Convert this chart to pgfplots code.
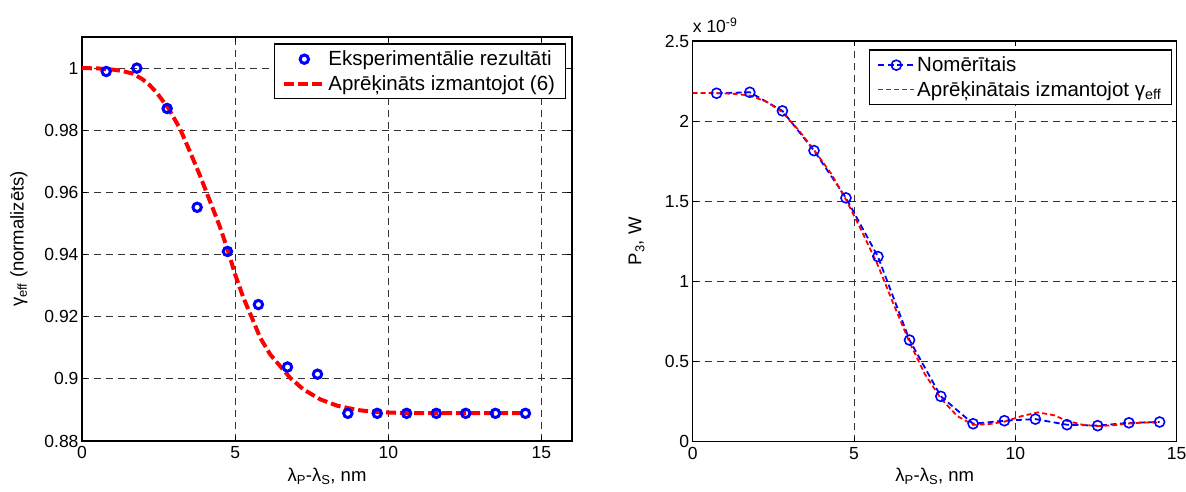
\documentclass[border=0pt]{standalone}
\usepackage{pgfplots}
\pgfplotsset{compat=1.18}
\usepackage{fontspec}
\setmainfont{Liberation Sans}

\pgfplotstableread{
x y
0.79 0.9989
1.79 1.000
2.78 0.987
3.76 0.9552
4.75 0.941
5.76 0.9239
6.71 0.9038
7.69 0.9015
8.68 0.8889
9.64 0.8889
10.60 0.8889
11.57 0.8889
12.53 0.8889
13.50 0.8889
14.48 0.8889
}\expdata

\pgfplotstableread{
x y
0    1.0000
0.5  0.9999
1.01 0.9995
1.3  0.9991
1.67 0.9982
1.99 0.9963
2.2  0.9946
2.43 0.9922
2.82 0.9871
3.2  0.9805
3.52 0.9732
3.84 0.9657
4.17 0.9574
4.5  0.9490
4.77 0.9411
5.0  0.9336
5.27 0.9261
5.55 0.9196
5.82 0.9132
6.15 0.9078
6.47 0.9041
6.8  0.9003
7.23 0.8966
7.78 0.8934
8.32 0.8914
8.98 0.8900
9.6  0.8893
10.5 0.8890
14.48 0.8890
}\calcdata

\pgfplotstableread{
x y
0.74 2.174
1.77 2.180
2.78 2.064
3.76 1.816
4.75 1.521
5.74 1.155
6.72 0.634
7.69 0.283
8.69 0.112
9.66 0.131
10.62 0.141
11.60 0.106
12.55 0.100
13.52 0.118
14.47 0.123
}\measdata

\pgfplotstableread{
x y
0    2.176
0.74 2.175
1.3  2.170
1.77 2.160
2.3  2.120
2.78 2.055
3.3  1.940
3.76 1.820
4.3  1.670
4.75 1.510
5.2  1.330
5.74 1.100
6.2  0.870
6.72 0.620
7.2  0.420
7.69 0.270
8.2  0.160
8.69 0.105
9.2  0.110
9.66 0.125
10.2 0.160
10.7 0.183
11.2 0.165
11.6 0.130
12.1 0.105
12.55 0.098
13.0 0.102
13.5 0.113
14.0 0.120
14.47 0.120
}\gammadata

\begin{document}
\begin{tikzpicture}
\useasboundingbox (0pt,0pt) rectangle (1186pt,491pt);
\pgfplotsset{
  every axis/.append style={
    scale only axis, anchor=south west,
    font=\fontsize{17.5}{20}\selectfont,
    axis line style={line width=1.2pt},
    tick align=inside, major tick length=5pt,
    tick style={black, line width=0.8pt},
    grid=major,
    major grid style={black!80, line width=0.8pt, dash pattern=on 7pt off 5pt},
    /pgf/number format/assume math mode=true,
    yticklabel style={/pgf/number format/fixed, /pgf/number format/precision=2},
    xticklabel style={yshift=-2pt},
    label style={font=\fontsize{18.5}{21}\selectfont},
    legend cell align=left,
    legend style={font=\fontsize{20.5}{23}\selectfont,
                  inner xsep=8pt, inner ysep=5pt, row sep=4pt},
    every axis legend/.append style={line width=1.1pt},
  }
}
% Left plot
\begin{axis}[
  at={(82pt,50pt)}, width=490pt, height=404pt,
  xmin=0, xmax=16, ymin=0.88, ymax=1.01,
  xtick={0,5,10,15}, ytick={0.88,0.9,0.92,0.94,0.96,0.98,1},
  xlabel={λ\textsubscript{P}-λ\textsubscript{S}, nm},
  ylabel={γ\textsubscript{eff} (normalizēts)},
  xlabel style={at={(axis description cs:0.5,-0.087)}, anchor=center},
  ylabel style={at={(axis description cs:-0.129,0.5)}, anchor=center},
  legend style={at={(rel axis cs:0.987,0.984)}, anchor=north east},
  legend image code/.code={\draw[mark repeat=2,mark phase=2] plot coordinates {(0pt,0pt)(20pt,0pt)(40pt,0pt)};},
]
\addplot[only marks, mark=o, mark size=4.2pt, blue, mark options={line width=3pt}] table[x=x,y=y] {\expdata};
\addlegendentry{Eksperimentālie rezultāti}
\addplot[red, line width=4pt, dash pattern=on 10pt off 4pt, mark=none] table[x=x,y=y] {\calcdata};
\addlegendentry{Aprēķināts izmantojot (6)}
\end{axis}
% Right plot
\begin{axis}[
  name=R,
  at={(692.7pt,49.3pt)}, width=484pt, height=400.7pt,
  xmin=0, xmax=15, ymin=0, ymax=2.5,
  xtick={0,5,10,15}, ytick={0,0.5,1,1.5,2,2.5},
  xlabel={λ\textsubscript{P}-λ\textsubscript{S}, nm},
  ylabel={P\textsubscript{3}, W},
  xlabel style={at={(axis description cs:0.5,-0.087)}, anchor=center},
  ylabel style={at={(axis description cs:-0.116,0.5)}, anchor=center},
  legend style={at={(rel axis cs:0.990,0.979)}, anchor=north east},
  legend image code/.code={\draw[mark repeat=2,mark phase=2] plot coordinates {(0pt,0pt)(18pt,0pt)(36pt,0pt)};},
]
\addplot[blue, line width=1.8pt, dash pattern=on 6pt off 3.5pt, mark=o, mark size=5pt, mark options={solid, line width=1.6pt}] table[x=x,y=y] {\measdata};
\addlegendentry{Nomērītais}
\addplot[red, line width=1.8pt, dash pattern=on 5pt off 3pt, mark=none] table[x=x,y=y] {\gammadata};
\addlegendentry{Aprēķinātais izmantojot γ\textsubscript{eff}}
\end{axis}
\node[anchor=base west, inner sep=0pt, font=\fontsize{17.5}{20}\selectfont] at ([yshift=8pt]R.north west) {x 10\textsuperscript{-9}};
\end{tikzpicture}
\end{document}
